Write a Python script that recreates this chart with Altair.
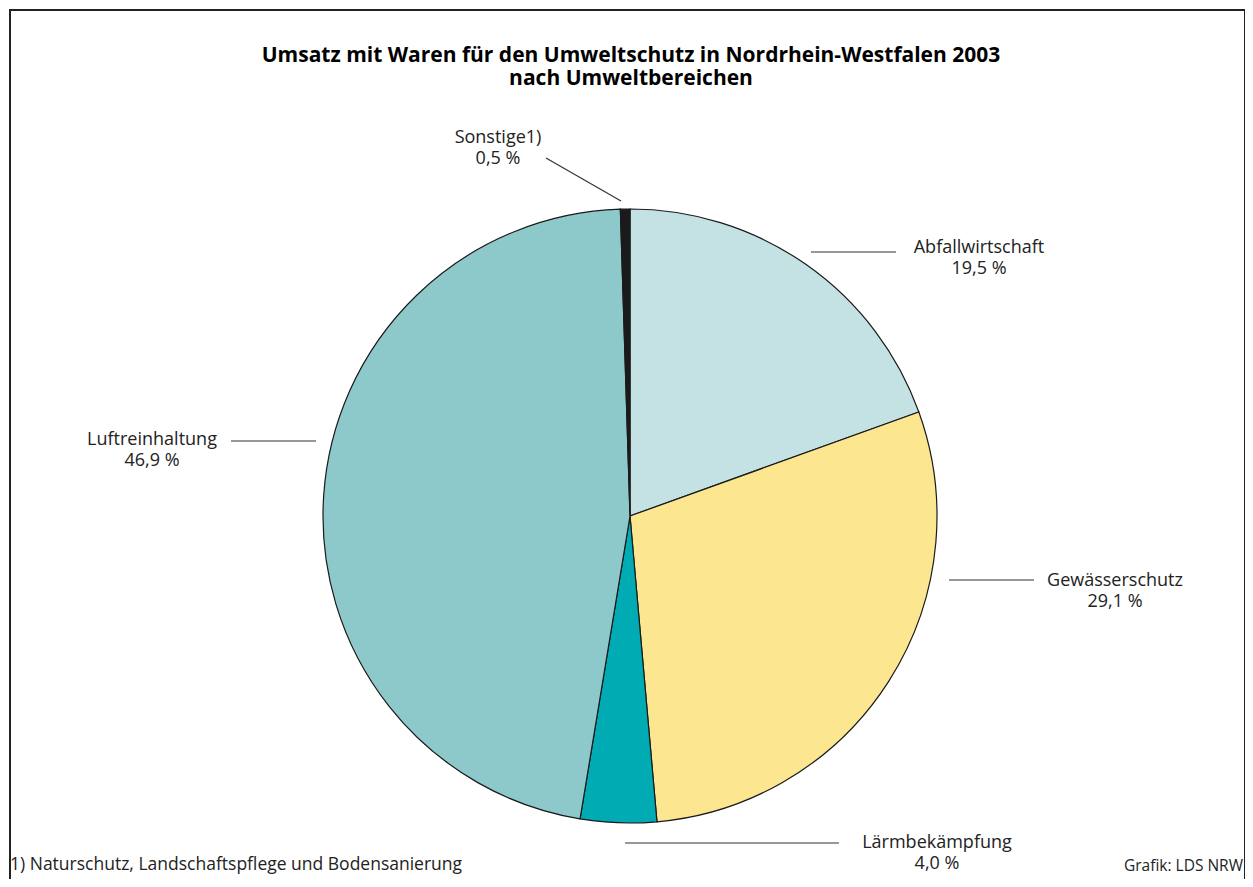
import altair as alt
import pandas as pd

# ---- data ----
categories = ["Abfallwirtschaft", "Gewässerschutz", "Lärmbekämpfung", "Luftreinhaltung", "Sonstige1)"]
values = [19.5, 29.1, 4.0, 46.9, 0.5]
colors = ["#c4e2e4", "#fce690", "#00abb3", "#8dc8ca", "#1a1a1a"]

title_lines = ["Umsatz mit Waren für den Umweltschutz in Nordrhein-Westfalen 2003",
               "nach Umweltbereichen"]
footnote = "1) Naturschutz, Landschaftspflege und Bodensanierung"
source = "Grafik: LDS NRW"

# ---- layout (chart pixel coordinates; page offset 8px) ----
OFF = 8
W, H = 1237, 871
CX, CY, R = 629 - OFF, 515 - OFF, 307
label_xy = [(978, 247), (1114, 580), (936, 842), (151, 439), (497, 137)]   # first line of label
leader = [(810, 251, 895, 251), (948, 579, 1033, 579), (624, 842, 838, 842),
          (230, 440, 315, 440), (545, 157, 620, 200)]
FONT = "Open Sans"

pie_df = pd.DataFrame({"cat": categories, "val": values, "order": list(range(len(values)))})

pie = alt.Chart(pie_df).mark_arc(radius=R, stroke="#1a1a1a", strokeWidth=1.2).encode(
    theta=alt.Theta("val:Q", stack=True),
    order=alt.Order("order:Q"),
    color=alt.Color("cat:N", scale=alt.Scale(domain=categories, range=colors), legend=None),
    x=alt.value(CX), y=alt.value(CY),
)

lab_df = pd.DataFrame({
    "lab": [[c, f"{v:.1f} %".replace(".", ",")] for c, v in zip(categories, values)],
    "lx": [p[0] - OFF for p in label_xy],
    "ly": [p[1] - OFF for p in label_xy],
    "x1": [l[0] - OFF for l in leader],
    "y1": [l[1] - OFF for l in leader],
    "x2": [l[2] - OFF for l in leader],
    "y2": [l[3] - OFF for l in leader],
})

labels = alt.Chart(lab_df).mark_text(font=FONT, fontSize=18, color="#222222", lineHeight=21,
                                      align="center", baseline="middle").encode(
    x=alt.X("lx:Q", scale=None, axis=None), y=alt.Y("ly:Q", scale=None, axis=None), text="lab")
lines = alt.Chart(lab_df).mark_rule(color="#333333", strokeWidth=1.2).encode(
    x=alt.X("x1:Q", scale=None, axis=None), y=alt.Y("y1:Q", scale=None, axis=None),
    x2="x2:Q", y2="y2:Q")

title = alt.Chart(pd.DataFrame({"t": [title_lines]})).mark_text(
    font=FONT, fontSize=21, fontWeight="bold", color="black", lineHeight=23,
    align="center", baseline="middle").encode(
    x=alt.value(630 - OFF), y=alt.value(55 - OFF), text="t")

foot = alt.Chart(pd.DataFrame({"t": [footnote]})).mark_text(
    font=FONT, fontSize=17.5, color="#222222", align="left", baseline="middle").encode(
    x=alt.value(9 - OFF), y=alt.value(864 - OFF), text="t:N")
src = alt.Chart(pd.DataFrame({"t": [source]})).mark_text(
    font=FONT, fontSize=15.5, color="#222222", align="right", baseline="middle").encode(
    x=alt.value(1242 - OFF), y=alt.value(865 - OFF), text="t:N")

frame_df = pd.DataFrame({"side": ["top", "left", "right"]})
frame_top = alt.Chart(frame_df.iloc[[0]]).mark_rule(color="#222222", strokeWidth=2).encode(
    x=alt.value(0), x2=alt.value(W), y=alt.value(1))
frame_left = alt.Chart(frame_df.iloc[[1]]).mark_rule(color="#222222", strokeWidth=2).encode(
    x=alt.value(1), y=alt.value(0), y2=alt.value(H))
frame_right = alt.Chart(frame_df.iloc[[2]]).mark_rule(color="#222222", strokeWidth=2).encode(
    x=alt.value(W - 1), y=alt.value(0), y2=alt.value(H))

chart = alt.layer(pie, lines, labels, title, foot, src,
                  frame_top, frame_left, frame_right).properties(
    width=W, height=H, padding=0,
    autosize=alt.AutoSizeParams(type="fit", contains="padding"),
    background="white",
).configure_view(stroke=None)

chart.save("out.html", embed_options={"renderer": "svg", "actions": False})
